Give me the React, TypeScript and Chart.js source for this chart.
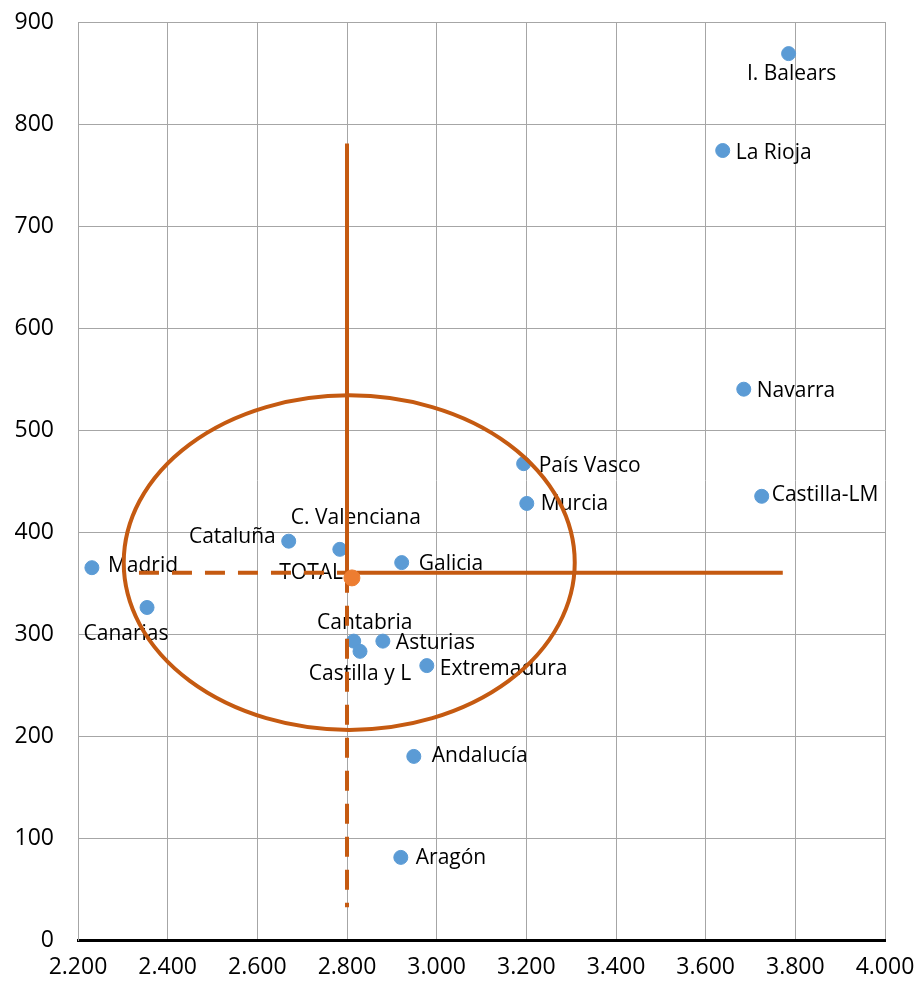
import React, { useEffect, useRef } from "react";
import { Chart, registerables } from "chart.js";

Chart.register(...registerables);

// ---- data ----
const regions = [
  "I. Balears", "La Rioja", "Navarra", "País Vasco", "Murcia", "Castilla-LM",
  "Cataluña", "C. Valenciana", "Galicia", "Madrid", "Canarias", "Cantabria",
  "Castilla y L", "Asturias", "Extremadura", "Andalucía", "Aragón",
];
const xValues = [3785, 3638, 3685, 3194, 3201, 3725, 2670, 2784, 2922, 2231, 2354, 2815, 2829, 2880, 2978, 2949, 2920];
const yValues = [869, 774, 540, 467, 428, 435, 391, 383, 370, 365, 326, 293, 283, 293, 269, 180, 81];

const totalLabel = "TOTAL";
const totalX = [2811];
const totalY = [355];

// reference lines (x, y pairs)
const vSolidX = [2800, 2800];
const vSolidY = [781, 360];
const vDashX = [2800, 2800];
const vDashY = [360, 32];
const hSolidX = [2800, 3772];
const hSolidY = [360, 360];
const hDashX = [2336, 2800];
const hDashY = [360, 360];

// ellipse: centre and radii in data units
const ellipseCenter = [2805, 370];
const ellipseRadii = [503, 164];

const xTicks = [2200, 2400, 2600, 2800, 3000, 3200, 3400, 3600, 3800, 4000];
const yTicks = [0, 100, 200, 300, 400, 500, 600, 700, 800, 900];

// ---- styling ----
const FONT = "'Open Sans', 'Noto Sans', sans-serif";
const ORANGE_LINE = "#C55A11";
const BLUE = "#5B9BD5";
const ORANGE_PT = "#ED7D31";

// label placement: [dx, dy, align]
const labelPlacement: Record<string, [number, number, CanvasTextAlign]> = {
  "I. Balears": [3, 18, "center"],
  "La Rioja": [13, 0, "left"],
  "Navarra": [13, 0, "left"],
  "País Vasco": [15, 0, "left"],
  "Murcia": [14, -1, "left"],
  "Castilla-LM": [10, -3, "left"],
  "Cataluña": [-13, -6, "right"],
  "C. Valenciana": [16, -33, "center"],
  "Galicia": [17, -1, "left"],
  "Madrid": [16, -4, "left"],
  "Canarias": [-21, 25, "center"],
  "Cantabria": [11, -20, "center"],
  "Castilla y L": [0, 21, "center"],
  "Asturias": [13, 0, "left"],
  "Extremadura": [13, 1, "left"],
  "Andalucía": [18, -2, "left"],
  "Aragón": [15, -1, "left"],
  "TOTAL": [-9, -7, "right"],
};
const LABEL_BASELINE_SHIFT = 2;

const fmt = (v: number) =>
  v >= 1000 ? Math.floor(v / 1000) + "." + String(v % 1000).padStart(3, "0") : String(v);

const overlayPlugin = {
  id: "overlay",
  afterDatasetDraw(chart: any, args: any) {
    if (args.index !== 0) return;
    const ctx = chart.ctx;
    const xs = chart.scales.x;
    const ys = chart.scales.y;
    ctx.save();
    // labels
    ctx.font = `21px ${FONT}`;
    ctx.fillStyle = "#000";
    ctx.textBaseline = "middle";
    const all: [string, number, number][] = regions.map((r, i) => [r, xValues[i], yValues[i]]);
    all.push([totalLabel, totalX[0], totalY[0]]);
    for (const [name, vx, vy] of all) {
      const p = labelPlacement[name] || [12, 0, "left"];
      ctx.textAlign = p[2];
      ctx.fillText(
        name,
        xs.getPixelForValue(vx) + p[0],
        ys.getPixelForValue(vy) + p[1] + LABEL_BASELINE_SHIFT
      );
    }
    // ellipse
    const cx = xs.getPixelForValue(ellipseCenter[0]);
    const cy = ys.getPixelForValue(ellipseCenter[1]);
    const rx = Math.abs(xs.getPixelForValue(ellipseCenter[0] + ellipseRadii[0]) - cx);
    const ry = Math.abs(ys.getPixelForValue(ellipseCenter[1] + ellipseRadii[1]) - cy);
    ctx.beginPath();
    ctx.ellipse(cx, cy, rx, ry, 0, 0, Math.PI * 2);
    ctx.strokeStyle = ORANGE_LINE;
    ctx.lineWidth = 4;
    ctx.stroke();
    ctx.restore();
  },
};

const pts = (xa: number[], ya: number[]) => xa.map((x, i) => ({ x, y: ya[i] }));

const lineDs = (xa: number[], ya: number[], dashed: boolean) => ({
  data: pts(xa, ya),
  showLine: true,
  borderColor: ORANGE_LINE,
  borderWidth: 4,
  borderDash: dashed ? [20, 13] : [],
  borderCapStyle: "butt",
  pointRadius: 0,
  fill: false,
  order: 2,
});

const zeroPad = (s: any) => {
  s.paddingTop = 0;
  s.paddingBottom = 0;
  s.paddingLeft = 0;
  s.paddingRight = 0;
};

export default function App() {
  const ref = useRef<HTMLCanvasElement>(null);
  useEffect(() => {
    document.body.style.margin = "0";
    const chart = new Chart(ref.current!, {
      type: "scatter",
      data: {
        datasets: [
          {
            data: pts(xValues, yValues),
            backgroundColor: BLUE,
            borderColor: BLUE,
            pointRadius: 7,
            pointHoverRadius: 7,
            order: 4,
          } as any,
          lineDs(vSolidX, vSolidY, false),
          lineDs(vDashX, vDashY, true),
          lineDs(hSolidX, hSolidY, false),
          lineDs(hDashX, hDashY, true),
          {
            data: pts(totalX, totalY),
            backgroundColor: ORANGE_PT,
            borderColor: ORANGE_PT,
            pointRadius: 8,
            order: 0,
          } as any,
        ],
      },
      options: {
        animation: false,
        responsive: false,
        maintainAspectRatio: false,
        layout: { padding: { top: 22, right: 35, left: 0, bottom: 0 } },
        plugins: { legend: { display: false }, tooltip: { enabled: false } },
        scales: {
          x: {
            type: "linear",
            min: 2200,
            max: 4000,
            afterBuildTicks: (s: any) => { s.ticks = xTicks.map((v) => ({ value: v })); },
            afterFit: (s: any) => { s.height = 46; zeroPad(s); },
            grid: { color: "#A6A6A6", lineWidth: 1, drawTicks: false },
            border: { color: "#000", width: 3 },
            ticks: {
              color: "#000",
              font: { family: FONT, size: 23 },
              padding: 14,
              maxRotation: 0,
              callback: (v: any) => fmt(Number(v)),
            },
          },
          y: {
            type: "linear",
            min: 0,
            max: 900,
            afterBuildTicks: (s: any) => { s.ticks = yTicks.map((v) => ({ value: v })); },
            afterFit: (s: any) => { s.width = 78; zeroPad(s); },
            grid: { color: "#A6A6A6", lineWidth: 1, drawTicks: false },
            border: { color: "#A6A6A6", width: 1 },
            ticks: {
              color: "#000",
              font: { family: FONT, size: 23 },
              padding: 24,
              callback: (v: any) => String(v),
            },
          },
        },
      },
      plugins: [overlayPlugin],
    } as any);
    return () => chart.destroy();
  }, []);
  return (
    <div style={{ width: 920, height: 986 }}>
      <canvas ref={ref} width={920} height={986} style={{ display: "block" }} />
    </div>
  );
}
